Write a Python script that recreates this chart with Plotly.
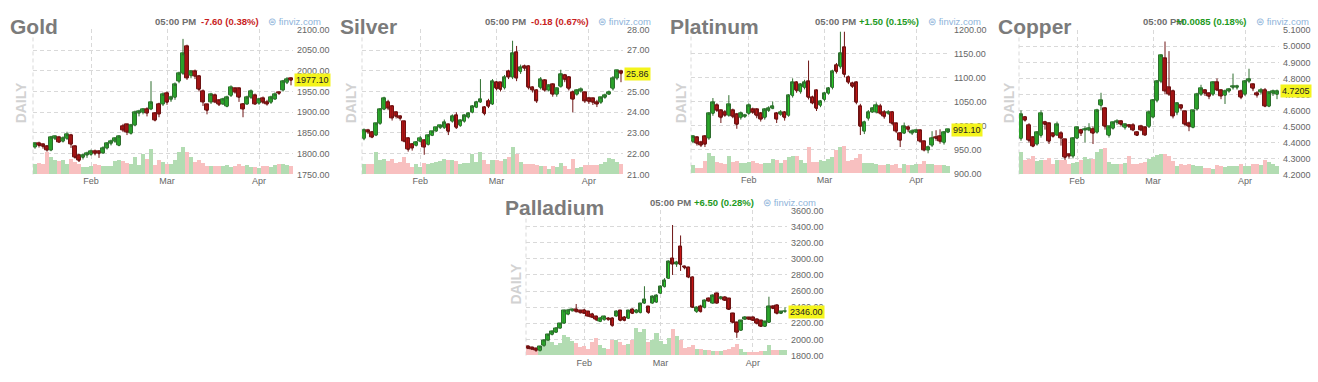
import plotly.graph_objects as go
import pandas as pd

W, H = 1318, 382

# ---------------- categories ----------------
_bd = pd.bdate_range("2022-01-11", "2022-04-13")
holidays = ["2022-01-17", "2022-02-21"]
dates = [d.strftime("%Y-%m-%d") for d in _bd if d.strftime("%Y-%m-%d") not in holidays]
month_ticks = ["2022-02-01", "2022-03-01", "2022-04-01"]
month_labels = ["Feb", "Mar", "Apr"]

# ---------------- Gold ----------------
gold_open = [1816.5,1824,1822,1818,1809,1836,1839,1830,1836,1845,1818,1797,1791,1797,1798,1806,1806,1802,1814,1824,1830,1820,1867,1870,1849,1869,1898,1900,1908,1908,1898,1920,1920,1946,1930,1936,1975,1994,2058,1988,1998,1987,1951,1918,1925,1941,1928,1920,1914,1940,1957,1957,1920,1920,1936,1940,1922,1933,1925,1924,1932,1948,1954,1971,1982]
gold_high = [1828,1829,1825,1821,1843,1844,1843,1842,1853,1848,1820,1800,1800,1805,1810,1810,1808,1818,1828,1834,1840,1845,1872,1872,1872,1904,1906,1910,1912,1975,1900,1923,1948,1950,1940,1972,1998,2077,2063,2002,2003,1990,1955,1920,1947,1945,1932,1935,1940,1965,1960,1960,1922,1940,1955,1945,1935,1938,1930,1940,1948,1950,1978,1985,1984]
gold_low = [1812,1815,1812,1805,1806,1833,1826,1827,1834,1814,1788,1780,1786,1790,1795,1796,1790,1800,1810,1820,1826,1818,1852,1845,1846,1866,1890,1895,1890,1905,1878,1888,1915,1918,1925,1930,1970,1990,1978,1982,1980,1950,1915,1895,1920,1922,1915,1918,1912,1937,1945,1925,1888,1918,1932,1918,1918,1920,1916,1920,1930,1942,1950,1968,1965]
gold_close = [1824.4,1820,1817,1809,1840,1841,1828,1838,1846,1823,1791,1783,1797,1800,1806,1800,1800,1814,1824,1830,1836,1842,1857,1852,1869,1900,1902,1907,1898,1924,1881,1896,1943,1924,1936,1967,1994,2041,1983,1998,1987,1955,1925,1904,1943,1925,1918,1932,1936,1959,1949,1936,1908,1936,1951,1920,1932,1924,1920,1936,1943,1945,1975,1980,1977.1]
gold_volume = [32,35,30,67,52,42,39,42,32,47,37,32,22,22,25,32,27,25,25,25,39,42,40,35,32,52,27,62,47,77,27,44,37,32,30,44,67,84,67,52,37,42,34,25,25,25,25,25,27,22,25,30,25,27,22,22,20,24,24,22,27,30,30,27,24]

# ---------------- Silver ----------------
silver_open = [22.72,23.12,23.05,22.9,23.45,24.15,24.5,24.3,24.0,23.8,23.54,22.75,22.47,22.4,22.6,22.63,22.44,22.88,23.1,23.25,23.25,23.4,23.57,23.85,23.35,23.57,23.77,24.0,24.24,24.5,24.24,24.55,24.4,25.45,25.42,25.18,25.96,25.7,26.9,25.96,26.23,26.23,25.18,25.07,25.18,25.53,25.07,25.34,24.87,25.23,25.8,25.7,24.98,24.87,25.03,24.95,24.67,24.67,24.48,24.48,24.71,24.87,25.13,25.65,25.96]
silver_high = [23.22,23.2,23.1,23.5,24.2,24.75,24.6,24.35,24.05,23.85,23.6,22.8,22.5,22.6,22.85,22.7,22.95,23.1,23.3,23.4,23.65,23.45,23.9,24.0,23.65,23.9,24.0,24.35,24.55,25.6,24.3,24.65,25.6,25.5,25.45,25.8,26.05,27.45,27.2,26.3,26.3,26.25,25.25,25.1,25.7,25.6,25.35,25.4,25.2,26.05,25.85,25.75,25.05,25.1,25.2,25.0,24.75,24.7,24.6,24.75,24.9,25.05,25.75,26.05,26.05]
silver_low = [22.65,22.95,22.75,22.85,23.4,24.1,24.1,23.6,23.7,23.6,22.55,22.1,22.15,22.35,22.55,21.95,22.4,22.85,23.05,23.2,23.2,22.9,23.5,23.2,23.3,23.5,23.7,23.95,24.2,24.45,23.85,24.2,24.35,25.05,25.0,25.1,25.6,25.6,25.5,25.85,26.0,25.1,24.95,24.45,25.1,25.0,25.0,24.75,24.75,25.2,25.45,25.05,24.0,24.8,24.95,24.45,24.4,24.35,24.25,24.4,24.65,24.85,25.05,25.55,25.45]
silver_close = [23.15,23.05,22.8,23.45,24.15,24.68,24.2,23.73,23.8,23.7,22.6,22.2,22.28,22.57,22.72,22.32,22.88,23.07,23.25,23.35,23.5,23.07,23.82,23.25,23.6,23.85,23.93,24.28,24.5,24.63,23.93,24.29,25.5,25.13,25.1,25.7,25.7,26.86,25.65,26.17,26.12,25.18,25.07,24.55,25.57,25.07,25.3,24.87,25.13,25.85,25.57,25.13,24.63,25.07,25.1,24.55,24.51,24.48,24.4,24.71,24.82,24.98,25.65,26.01,25.86]
silver_volume = [32,30,32,67,44,47,40,45,34,37,52,34,22,32,22,34,32,34,36,40,46,44,42,40,32,34,34,62,37,67,44,32,44,42,40,46,52,84,62,37,32,30,30,27,25,25,17,25,22,35,25,17,47,20,22,27,27,29,27,32,37,50,47,37,32]

# ---------------- Platinum ----------------
platinum_open = [966,975,964,977,974,1025,1042,1031,1028,1021,1031,1023,1016,1018,1025,1033,1033,1025,1016,1031,1035,1025,1023,1027,1021,1062,1089,1070,1079,1092,1058,1072,1042,1054,1067,1079,1126,1122,1163,1101,1087,1089,1040,988,1015,1028,1028,1040,1028,1025,1028,1004,984,984,996,984,986,989,967,949,959,976,978,964,986]
platinum_high = [980,978,968,980,1028,1057,1046,1034,1032,1063,1035,1026,1029,1024,1046,1037,1036,1028,1036,1040,1050,1028,1032,1030,1065,1098,1092,1088,1095,1135,1062,1075,1053,1070,1080,1116,1130,1195,1195,1104,1091,1092,1045,1010,1032,1038,1048,1045,1032,1032,1030,1006,986,1006,1000,992,993,992,968,958,988,990,992,988,993]
platinum_low = [963,958,955,955,970,1020,1028,1005,1018,1018,1015,993,1012,1016,1022,1024,1015,1008,1012,1028,1034,1005,1020,1010,1018,1058,1068,1066,1075,1054,1044,1030,1038,1050,1064,1075,1108,1118,1100,1086,1078,1044,980,982,1010,1026,1025,1022,1014,1022,1000,984,955,982,986,980,984,964,946,942,955,968,962,960,984]
platinum_close = [977,962,959,961,1025,1048,1031,1016,1021,1043,1018,1002,1026,1021,1042,1027,1020,1013,1033,1036,1040,1013,1028,1016,1062,1090,1072,1085,1090,1058,1047,1035,1050,1067,1077,1112,1112,1151,1106,1090,1081,1048,998,1007,1028,1035,1042,1025,1018,1028,1004,988,969,998,991,988,989,967,949,955,974,973,967,986,991.1]
platinum_volume = [25,17,17,37,62,52,35,32,27,52,34,37,30,32,35,37,32,27,30,30,44,42,32,40,49,52,52,42,32,82,34,34,42,37,44,50,70,82,85,37,42,47,60,32,32,32,27,25,25,27,25,27,17,27,25,25,27,27,37,27,27,25,25,25,22]

# ---------------- Copper ----------------
copper_open = [4.423,4.559,4.508,4.431,4.39,4.443,4.528,4.518,4.457,4.447,4.457,4.417,4.325,4.315,4.427,4.478,4.478,4.478,4.484,4.464,4.63,4.613,4.443,4.488,4.524,4.532,4.492,4.508,4.508,4.464,4.498,4.492,4.498,4.559,4.66,4.782,4.924,4.741,4.721,4.585,4.63,4.593,4.518,4.492,4.609,4.701,4.727,4.707,4.701,4.776,4.727,4.694,4.721,4.741,4.741,4.721,4.701,4.782,4.761,4.707,4.715,4.727,4.626,4.707,4.7]
copper_high = [4.6,4.565,4.52,4.44,4.47,4.6,4.535,4.525,4.46,4.53,4.47,4.42,4.33,4.43,4.5,4.485,4.5,4.52,4.5,4.61,4.71,4.62,4.5,4.53,4.545,4.54,4.52,4.515,4.52,4.47,4.51,4.5,4.6,4.67,4.79,4.95,5.03,4.97,4.73,4.65,4.64,4.6,4.53,4.6,4.71,4.76,4.73,4.71,4.78,4.8,4.73,4.73,4.74,4.83,4.76,4.73,4.79,4.86,4.77,4.72,4.74,4.74,4.72,4.73,4.73]
copper_low = [4.41,4.53,4.4,4.37,4.38,4.43,4.48,4.39,4.43,4.44,4.38,4.29,4.3,4.3,4.42,4.44,4.4,4.47,4.39,4.455,4.6,4.48,4.43,4.48,4.51,4.5,4.48,4.49,4.47,4.44,4.47,4.44,4.49,4.55,4.65,4.77,4.7,4.69,4.55,4.57,4.6,4.5,4.47,4.49,4.6,4.69,4.69,4.67,4.69,4.72,4.67,4.64,4.71,4.73,4.73,4.67,4.69,4.77,4.72,4.68,4.7,4.62,4.62,4.69,4.67]
copper_close = [4.573,4.539,4.411,4.376,4.463,4.579,4.512,4.407,4.437,4.512,4.427,4.305,4.315,4.427,4.492,4.457,4.484,4.49,4.457,4.599,4.66,4.498,4.498,4.524,4.532,4.512,4.512,4.498,4.478,4.443,4.478,4.447,4.589,4.666,4.782,4.944,4.721,4.701,4.565,4.646,4.613,4.512,4.498,4.599,4.701,4.735,4.707,4.686,4.776,4.727,4.69,4.721,4.731,4.751,4.751,4.68,4.782,4.796,4.735,4.695,4.727,4.626,4.711,4.721,4.7205]
copper_volume = [67,42,47,57,39,44,42,50,30,44,42,44,32,34,37,44,52,47,46,67,77,82,37,32,30,32,34,57,30,32,34,37,47,54,59,62,62,57,40,25,30,27,30,27,25,24,20,20,17,27,24,22,25,25,25,30,25,24,32,30,27,44,37,32,25]

# ---------------- Palladium ----------------
palladium_open = [1913,1900,1889,1860,1921,1993,2062,2090,2142,2203,2315,2356,2372,2356,2364,2344,2315,2283,2223,2243,2263,2263,2291,2356,2275,2263,2372,2332,2332,2452,2404,2452,2464,2573,2654,2758,3000,2936,3149,2907,2895,2775,2344,2412,2396,2505,2452,2573,2505,2525,2505,2323,2211,2114,2251,2271,2275,2251,2231,2162,2211,2412,2424,2323,2344]
palladium_high = [1930,1910,1895,1920,2000,2070,2110,2150,2205,2370,2380,2385,2440,2365,2380,2350,2330,2295,2280,2295,2275,2275,2360,2365,2290,2365,2385,2375,2450,2660,2415,2545,2560,2670,2760,2980,3420,2975,3290,2915,2900,2780,2410,2430,2495,2520,2560,2580,2540,2535,2510,2330,2220,2240,2290,2280,2285,2260,2240,2230,2530,2425,2440,2350,2400]
palladium_low = [1880,1870,1850,1855,1915,1985,2050,2080,2135,2195,2300,2345,2335,2320,2315,2280,2265,2230,2215,2235,2235,2160,2285,2225,2225,2255,2315,2325,2325,2440,2320,2445,2455,2565,2645,2750,2800,2900,2850,2870,2760,2390,2330,2335,2385,2470,2445,2445,2495,2480,2365,2200,2020,2105,2245,2245,2230,2190,2155,2155,2205,2375,2310,2315,2335]
palladium_close = [1889,1880,1860,1913,1993,2062,2102,2142,2195,2356,2364,2372,2344,2332,2323,2291,2275,2243,2263,2283,2243,2170,2344,2235,2235,2356,2323,2364,2444,2493,2332,2533,2545,2654,2734,2968,2936,2960,2928,2887,2775,2396,2396,2344,2485,2477,2545,2452,2525,2485,2372,2211,2090,2235,2275,2251,2235,2195,2162,2223,2412,2384,2323,2344,2346]
palladium_volume = [18,15,13,20,40,45,40,32,38,63,55,42,37,25,27,20,40,52,30,22,20,48,48,40,30,35,48,85,70,80,40,45,67,42,35,52,80,60,45,22,25,30,18,18,17,15,13,13,13,17,20,25,35,18,10,10,10,10,13,13,30,17,17,15,15]

# ---------------- header texts ----------------
names = ["Gold", "Silver", "Platinum", "Copper", "Palladium"]
changes = ["-7.60 (0.38%)", "-0.18 (0.67%)", "+1.50 (0.15%)", "+0.0085 (0.18%)", "+6.50 (0.28%)"]
last_labels = ["1977.10", "25.86", "991.10", "4.7205", "2346.00"]
time_label = "05:00 PM"

series = [
    (gold_open, gold_high, gold_low, gold_close, gold_volume),
    (silver_open, silver_high, silver_low, silver_close, silver_volume),
    (platinum_open, platinum_high, platinum_low, platinum_close, platinum_volume),
    (copper_open, copper_high, copper_low, copper_close, copper_volume),
    (palladium_open, palladium_high, palladium_low, palladium_close, palladium_volume),
]

# layout: panel origin, plot box (px), price range, tick step, format, volume range
layout_cfg = [
    dict(px=0,   py=0,   L=33,   R=293,  T=25,  B=174, rng=[1750, 2100], dt=50,  fmt=".2f", vr=447),
    dict(px=330, py=0,   L=362,  R=623,  T=25,  B=174, rng=[21, 28],     dt=1,   fmt=".2f", vr=447),
    dict(px=660, py=0,   L=691,  R=950,  T=25,  B=173, rng=[900, 1200],  dt=50,  fmt=".2f", vr=445),
    dict(px=988, py=0,   L=1019, R=1279, T=26,  B=174, rng=[4.2, 5.1],   dt=0.1, fmt=".4f", vr=444),
    dict(px=495, py=186, L=526,  R=787,  T=211, B=360, rng=[1800, 3600], dt=200, fmt=".2f", vr=447),
]

FONT = "Liberation Sans, Arial, sans-serif"
GRID = "#d9d9d9"
DASH = "4px,3px"
UP_FILL, UP_LINE = "#26d426", "#2f6f2f"
DN_FILL, DN_LINE = "#d41515", "#6e1414"
UP_VOL, DN_VOL = "#b2dcb2", "#f8c0c0"
POS, NEG = "#1e9a1e", "#c81e1e"


def fx(x):
    return x / W


def fy(y):
    return 1 - y / H


fig = go.Figure()
annotations = []
shapes = []
layout_axes = {}

for i, ((o, h, l, c, v), cfg) in enumerate(zip(series, layout_cfg)):
    xn = i + 1
    yv = 2 * i + 1
    yp = 2 * i + 2
    xname = "x" if xn == 1 else f"x{xn}"
    yvname = "y" if yv == 1 else f"y{yv}"
    ypname = f"y{yp}"
    up = [cc >= oo for oo, cc in zip(o, c)]
    vol_colors = [UP_VOL if u else DN_VOL for u in up]

    # volume
    fig.add_trace(go.Bar(x=dates, y=v, marker=dict(color=vol_colors, line=dict(width=0)),
                         xaxis=xname, yaxis=yvname, showlegend=False, hoverinfo="skip"))
    # wicks (candlestick)
    fig.add_trace(go.Candlestick(
        x=dates, open=o, high=h, low=l, close=c, xaxis=xname, yaxis=ypname,
        increasing=dict(fillcolor=UP_FILL, line=dict(color=UP_LINE, width=1)),
        decreasing=dict(fillcolor=DN_FILL, line=dict(color=DN_LINE, width=1)),
        whiskerwidth=0, showlegend=False, hoverinfo="skip"))
    # bodies (wider boxes on top of the candlestick)
    fig.add_trace(go.Bar(
        x=dates, base=o, y=[cc - oo for oo, cc in zip(o, c)], width=0.9,
        marker=dict(color=[UP_FILL if u else DN_FILL for u in up],
                    line=dict(color=[UP_LINE if u else DN_LINE for u in up], width=1)),
        xaxis=xname, yaxis=ypname, showlegend=False, hoverinfo="skip"))

    xdom = [fx(cfg["L"]), fx(cfg["R"])]
    ydom = [fy(cfg["B"]), fy(cfg["T"])]
    xkey = "xaxis" if xn == 1 else f"xaxis{xn}"
    yvkey = "yaxis" if yv == 1 else f"yaxis{yv}"
    ypkey = f"yaxis{yp}"
    layout_axes[xkey] = dict(
        domain=xdom, anchor=yvname, type="category", categoryorder="array",
        categoryarray=dates, range=[-0.5, len(dates) - 0.5],
        tickmode="array", tickvals=month_ticks, ticktext=month_labels,
        showgrid=True, gridcolor=GRID, griddash=DASH, gridwidth=1,
        zeroline=False, showline=False, ticks="",
        tickfont=dict(size=9, color="#666", family=FONT),
        rangeslider=dict(visible=False), fixedrange=True)
    layout_axes[yvkey] = dict(
        domain=ydom, anchor=xname, range=[0, cfg["vr"]], visible=False,
        showgrid=False, zeroline=False, fixedrange=True)
    layout_axes[ypkey] = dict(
        domain=ydom, anchor=xname, overlaying=yvname, side="right",
        range=cfg["rng"], tick0=cfg["rng"][0], dtick=cfg["dt"], tickformat=cfg["fmt"],
        showgrid=True, gridcolor=GRID, griddash=DASH, gridwidth=1,
        zeroline=False, showline=False, ticks="", ticklabelstandoff=3,
        tickfont=dict(size=9, color="#666", family=FONT), fixedrange=True)

    # left dashed border
    shapes.append(dict(type="line", xref=f"{xname} domain", yref=f"{yvname} domain",
                       x0=0, x1=0, y0=0, y1=1, layer="below",
                       line=dict(color=GRID, width=1, dash=DASH)))

    px0, py0 = cfg["px"], cfg["py"]
    chg_color = NEG if changes[i].startswith("-") else POS
    annotations += [
        dict(text=f"<b>{names[i]}</b>", x=fx(px0 + 8), y=fy(py0 + 22), xref="paper", yref="paper",
             xanchor="left", yanchor="middle", showarrow=False,
             font=dict(size=21, color="#7b7b7b", family=FONT)),
        dict(text=f"<b>{time_label}</b>", x=fx(px0 + 153), y=fy(py0 + 17), xref="paper", yref="paper",
             xanchor="left", yanchor="middle", showarrow=False,
             font=dict(size=9.5, color="#6e6e6e", family=FONT)),
        dict(text=f"<b>{changes[i]}</b>", x=fx(px0 + 261), y=fy(py0 + 17), xref="paper", yref="paper",
             xanchor="right", yanchor="middle", showarrow=False,
             font=dict(size=9.5, color=chg_color, family=FONT)),
        dict(text="⊜ finviz.com", x=fx(px0 + 266), y=fy(py0 + 17), xref="paper", yref="paper",
             xanchor="left", yanchor="middle", showarrow=False,
             font=dict(size=9.5, color="#8fb4da", family=FONT)),
        dict(text="<b>DAILY</b>", x=fx(px0 + 21), y=fy(py0 + 101), xref="paper", yref="paper",
             xanchor="center", yanchor="middle", textangle=-90, showarrow=False,
             font=dict(size=14, color="#d2d2d2", family=FONT)),
        dict(text=last_labels[i], x=fx(cfg["R"] + 1), y=c[-1], xref="paper", yref=ypname,
             xanchor="left", yanchor="middle", showarrow=False, bgcolor="#f4f41c",
             borderpad=1, font=dict(size=9, color="#222", family=FONT)),
    ]

fig.update_layout(
    width=W, height=H, margin=dict(l=0, r=0, t=0, b=0),
    paper_bgcolor="white", plot_bgcolor="white",
    bargap=0, barmode="overlay", showlegend=False,
    annotations=annotations, shapes=shapes,
    font=dict(family=FONT),
    **layout_axes,
)

fig.write_html("out.html")
